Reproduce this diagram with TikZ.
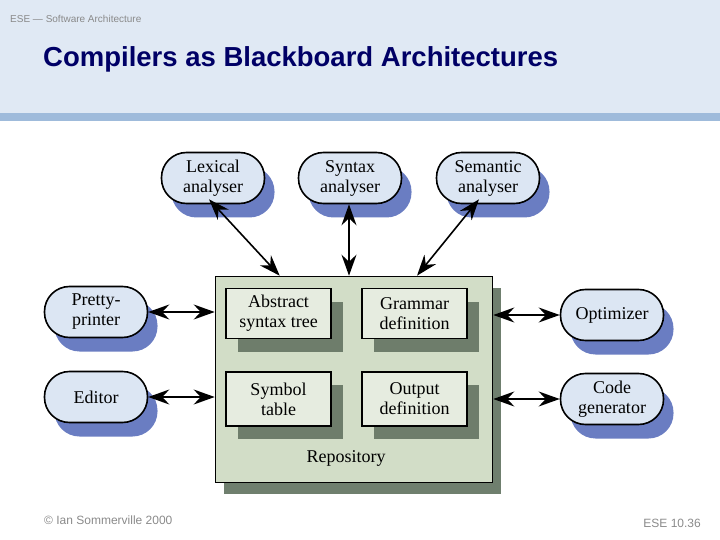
\documentclass[tikz,border=0pt]{standalone}
\usepackage{fontspec}
\setmainfont{Liberation Serif}
\newfontfamily\hdrfont{Liberation Sans}
\usetikzlibrary{arrows.meta,shadows,calc}
\definecolor{hdrbg}{HTML}{E0E9F4}
\definecolor{hdrband}{HTML}{9FBBDB}
\definecolor{titlecol}{HTML}{000066}
\definecolor{graytext}{HTML}{8A8A8A}
\definecolor{procfill}{HTML}{DCE6F3}
\definecolor{procshadow}{HTML}{6A7DC2}
\definecolor{repofill}{HTML}{D2DDC7}
\definecolor{reposhadow}{HTML}{6F7F6E}
\definecolor{datafill}{HTML}{E6ECE0}
\definecolor{datashadow}{HTML}{6E7D6B}
\tikzset{
  proc/.style={draw, line width=1.6pt, fill=procfill, rounded corners=25pt,
    minimum width=103pt, minimum height=51pt, inner sep=0pt, align=center,
    font=\fontsize{18}{20}\selectfont,
    drop shadow={shadow xshift=10pt, shadow yshift=-14pt, fill=procshadow, opacity=1}},
  datastore/.style={draw, line width=1.6pt, fill=datafill,
    minimum width=105pt, inner sep=0pt, align=center,
    font=\fontsize{18}{20}\selectfont,
    drop shadow={shadow xshift=12pt, shadow yshift=-13pt, fill=datashadow, opacity=1}},
  biarrow/.style={line width=1.6pt, {Stealth[length=21pt,width=15pt,inset=7pt]}-{Stealth[length=21pt,width=15pt,inset=7pt]}},
}
\begin{document}
\begin{tikzpicture}[x=1pt,y=-1pt]
\useasboundingbox (0,0) rectangle (720,540);
% header
\fill[hdrbg] (0,0) rectangle (720,113);
\fill[hdrband] (0,113) rectangle (720,121);
\node[anchor=base west, inner sep=0pt, text=graytext, font=\hdrfont\fontsize{10}{11}\selectfont] (hdr) at (10,23) {ESE — Software Architecture};
\node[anchor=base west, inner sep=0pt, text=titlecol, font=\hdrfont\bfseries\fontsize{27.5}{30}\selectfont] (title) at (43,67) {Compilers as Blackboard Architectures};
% footer
\node[anchor=base west, inner sep=0pt, text=graytext, font=\hdrfont\fontsize{12}{13}\selectfont] (copy) at (44,524) {© Ian Sommerville 2000};
\node[anchor=base east, inner sep=0pt, text=graytext, font=\hdrfont\fontsize{12}{13}\selectfont] (pg) at (701,527) {ESE 10.36};
% repository
\node[draw, line width=1.6pt, fill=repofill, minimum width=277pt, minimum height=206pt, inner sep=0pt,
  drop shadow={shadow xshift=8pt, shadow yshift=-11pt, fill=reposhadow, opacity=1}] (repo) at (354,379.5) {};
\node[font=\fontsize{18}{20}\selectfont] (repolabel) at (346,458) {Repository};
\node[datastore, minimum height=50pt] (ast) at (278.5,313.5) {Abstract\\syntax tree};
\node[datastore, minimum height=50pt] (gram) at (414.5,313.5) {Grammar\\definition};
\node[datastore, minimum height=54pt] (sym) at (278.5,399) {Symbol\\table};
\node[datastore, minimum height=54pt] (outdef) at (414.5,399) {Output\\definition};
% processes
\node[proc] (lex) at (213,178) {Lexical\\analyser};
\node[proc] (syn) at (350,178) {Syntax\\analyser};
\node[proc] (sem) at (488,178) {Semantic\\analyser};
\node[proc] (pp) at (96,312) {Pretty-\\printer};
\node[proc] (ed) at (96,397) {Editor};
\node[proc] (opt) at (612,315) {Optimizer};
\node[proc] (cg) at (612,399) {Code\\generator};
% connectors
\draw[biarrow] ([xshift=-4pt,yshift=5pt]lex.south) -- ($(repo.north west)+(65,0)$);
\draw[biarrow] ([xshift=-1pt]syn.south) -- ([xshift=-1pt]syn.south |- repo.north);
\draw[biarrow] ([xshift=-9pt,yshift=5pt]sem.south) -- ($(repo.north)+(63,0)$);
\draw[biarrow] (pp.east) -- (pp.east -| repo.west);
\draw[biarrow] (ed.east) -- (ed.east -| repo.west);
\draw[biarrow] (opt.west -| repo.east) -- (opt.west);
\draw[biarrow] (cg.west -| repo.east) -- (cg.west);
\end{tikzpicture}
\end{document}
